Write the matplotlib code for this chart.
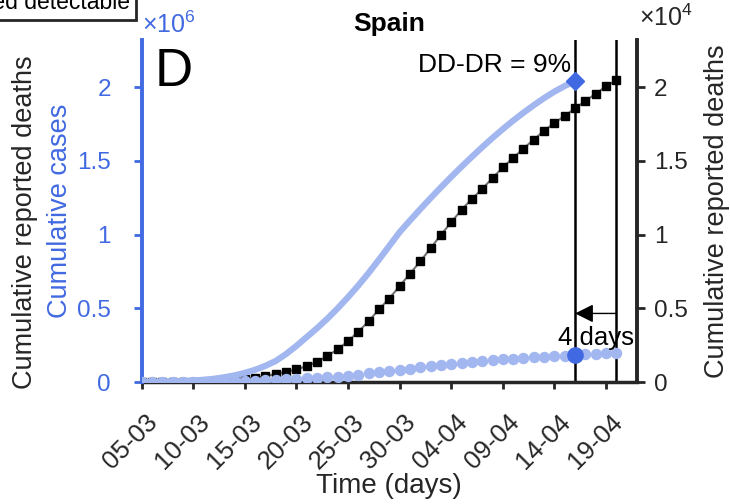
import numpy as np
import matplotlib
matplotlib.use("Agg")
import matplotlib.pyplot as plt
from matplotlib.ticker import FuncFormatter
from matplotlib.transforms import ScaledTranslation

plt.rcParams['font.family'] = ['Liberation Sans', 'DejaVu Sans']
plt.rcParams['mathtext.fontset'] = 'custom'
plt.rcParams['mathtext.rm'] = 'Liberation Sans'

# days counted from 05-03
tick_labels = ['05-03', '10-03', '15-03', '20-03', '25-03',
               '30-03', '04-04', '09-04', '14-04', '19-04']

# estimated detectable cases (x1e6), days 0..42
estimated = [0.000, 0.001, 0.002, 0.004, 0.006, 0.010, 0.015, 0.022, 0.032, 0.045,
             0.062, 0.083, 0.110, 0.143, 0.190, 0.245, 0.305, 0.365, 0.430, 0.500,
             0.575, 0.655, 0.740, 0.830, 0.923, 1.016, 1.095, 1.172, 1.247, 1.320,
             1.391, 1.460, 1.527, 1.592, 1.655, 1.715, 1.772, 1.826, 1.877, 1.925,
             1.969, 2.007, 2.040]

# reported cumulative cases (x1e6), days 0..46
cases = [0.0003, 0.0004, 0.0004, 0.0007, 0.0012, 0.0017, 0.0023, 0.0031, 0.0052, 0.0064,
         0.0078, 0.0099, 0.0117, 0.0139, 0.0180, 0.0204, 0.0254, 0.0286, 0.0330, 0.0370,
         0.0430, 0.0500, 0.0580, 0.0655, 0.0755, 0.0840, 0.0910, 0.1010, 0.1080, 0.1160,
         0.1230, 0.1310, 0.1380, 0.1430, 0.1480, 0.1530, 0.1580, 0.1630, 0.1680, 0.1730,
         0.1760, 0.1790, 0.1830, 0.1870, 0.1910, 0.1940, 0.1970]

# reported cumulative deaths (x1e4), days 0..46
deaths = [0.0002, 0.0003, 0.0005, 0.0010, 0.0017, 0.0028, 0.0036, 0.0054, 0.0084, 0.0133,
          0.021, 0.030, 0.040, 0.055, 0.070, 0.085, 0.108, 0.137, 0.178, 0.221,
          0.277, 0.342, 0.412, 0.493, 0.566, 0.651, 0.734, 0.818, 0.907, 0.998,
          1.083, 1.168, 1.241, 1.309, 1.383, 1.455, 1.520, 1.583, 1.644, 1.703,
          1.757, 1.804, 1.856, 1.905, 1.955, 2.005, 2.047]

dd_day = 42   # detectable-deaths day
dr_day = 46   # reported-deaths day

blue = '#4169e1'
light = '#a2b6ef'
dark = '#262626'

fig = plt.figure(figsize=(7.3, 5.04), dpi=100)
ax_d = fig.add_axes([0.194, 0.242, 0.6786, 0.679])
ax_c = ax_d.twinx()

days_e = np.arange(len(estimated))
days_c = np.arange(len(cases))
days_d = np.arange(len(deaths))

# deaths on the right axis
ax_d.plot(days_d, np.array(deaths) * 1e4, color='#707070', lw=1.5,
          marker='s', ms=5.5, mfc='black', mec='black', zorder=3)
ax_d.axvline(dd_day, color='black', lw=1.8, zorder=2)
ax_d.axvline(dr_day, color='black', lw=1.8, zorder=2)
ax_d.set_ylim(0, 2.32e4)
ax_d.yaxis.tick_right()
ax_d.yaxis.set_label_position('right')
ax_d.yaxis.set_major_formatter(FuncFormatter(lambda v, p: '%g' % (v / 1e4)))
ax_d.set_yticks([0, 0.5e4, 1e4, 1.5e4, 2e4])
ax_d.set_ylabel('Cumulative reported deaths', fontsize=19.5, color=dark, labelpad=12)

# cases on the left axis
ax_c.plot(days_e, np.array(estimated) * 1e6, color=light, lw=4.5, zorder=2)
ax_c.plot(days_c, np.array(cases) * 1e6, 'o', color=light, ms=7.2, zorder=3)
ax_c.plot(dd_day, estimated[dd_day] * 1e6, 'D', color=blue, ms=9, zorder=4)
ax_c.plot(dd_day, cases[dd_day] * 1e6, 'o', color=blue, ms=11, zorder=4)
ax_c.set_ylim(0, 2.32e6)
ax_c.yaxis.tick_left()
ax_c.yaxis.set_label_position('left')
ax_c.yaxis.set_major_formatter(FuncFormatter(lambda v, p: '%g' % (v / 1e6)))
ax_c.set_yticks([0, 0.5e6, 1e6, 1.5e6, 2e6])
ax_c.set_ylabel('Cumulative cases', fontsize=19.5, color=blue, labelpad=3)

ax_d.set_xlim(0, 48)
ax_d.set_xticks(np.arange(0, 50, 5))
ax_d.set_xticklabels(tick_labels, rotation=45, ha='right', va='top',
                     rotation_mode='anchor')
ax_d.set_xlabel('Time (days)', fontsize=20, color=dark, labelpad=0)

for a in (ax_d, ax_c):
    for s in a.spines.values():
        s.set_visible(False)
ax_d.spines['bottom'].set_visible(True)
ax_d.spines['bottom'].set_linewidth(2.5)
ax_d.spines['bottom'].set_color(dark)
ax_d.spines['right'].set_visible(True)
ax_d.spines['right'].set_linewidth(2.8)
ax_d.spines['right'].set_color(dark)
ax_c.spines['left'].set_visible(True)
ax_c.spines['left'].set_linewidth(2.8)
ax_c.spines['left'].set_color(blue)

ax_d.tick_params(axis='x', labelsize=18.5, length=5, width=2, color=dark,
                 labelcolor=dark, pad=15)
ax_d.tick_params(axis='y', labelsize=17.5, length=6, width=2, color=dark,
                 labelcolor=dark, pad=6)
ax_c.tick_params(axis='y', labelsize=17.5, length=6, width=2, color=blue,
                 labelcolor=blue, pad=16)
for lab in ax_d.get_xticklabels():
    lab.set_transform(lab.get_transform() + ScaledTranslation(4 / 100, 0, fig.dpi_scale_trans))

ax_c.text(0.0, 1.005, r'$\times10^6$', transform=ax_c.transAxes, color=blue,
          fontsize=18, ha='left', va='bottom')
ax_d.text(1.005, 1.025, r'$\times10^4$', transform=ax_d.transAxes, color=dark,
          fontsize=18, ha='left', va='bottom')

ax_d.set_title('Spain', fontsize=19, fontweight='bold', pad=6)
ax_c.text(0.026, 0.98, 'D', transform=ax_c.transAxes, fontsize=38,
          ha='left', va='top')
ax_c.text(dd_day - 0.4, 2.15e6, 'DD-DR = 9%', fontsize=19, ha='right', va='center')
ax_c.annotate('', xy=(dd_day, 0.465e6), xytext=(dr_day, 0.465e6),
              arrowprops=dict(arrowstyle='-|>', color='black', lw=1,
                              mutation_scale=28, shrinkA=0, shrinkB=0))
ax_c.text((dd_day + dr_day) / 2, 0.30e6, '4 days', fontsize=18.5, ha='center', va='center')

# bits of the neighbouring panel that show at the edges
fig.text(0.034, 0.56, 'Cumulative reported deaths', rotation=90, fontsize=19.5,
         ha='center', va='center', color=dark)
fig.text(0.178, 0.995, 'Estimated detectable', fontsize=16.5, ha='right', va='center',
         bbox=dict(boxstyle='square,pad=0.25', fc='white', ec=dark, lw=2))

fig.savefig('out.png', dpi=100)
